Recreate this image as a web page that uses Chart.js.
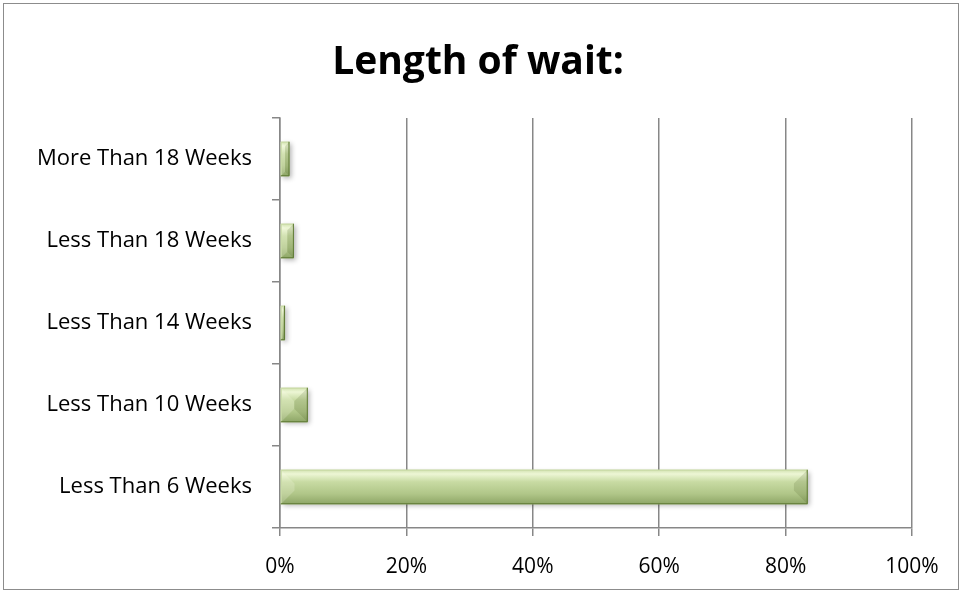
<!DOCTYPE html>
<html>
<head>
<meta charset="utf-8">
<script src="https://cdn.jsdelivr.net/npm/chart.js@4/dist/chart.umd.min.js"></script>
<style>
  html, body { margin: 0; padding: 0; background: #fff; }
  #wrap { position: absolute; left: 3px; top: 3px; width: 956px; height: 587px; border: 1px solid #8c8c8c; box-sizing: border-box; }
  #chart { position: absolute; left: 0; top: 0; }
</style>
</head>
<body>
<div id="wrap"></div>
<canvas id="chart" width="962" height="593"></canvas>
<script>
// chart data, top to bottom as in the picture
const categories = ['More Than 18 Weeks', 'Less Than 18 Weeks', 'Less Than 14 Weeks', 'Less Than 10 Weeks', 'Less Than 6 Weeks'];
const waitShare = [1.5, 2.2, 0.8, 4.4, 83.5];
const xTicks = [0, 20, 40, 60, 80, 100];
const chartTitle = 'Length of wait:';

const baseFont = "'Open Sans', 'Liberation Sans', Arial, sans-serif";

// title centred on the whole canvas, like the original
const titlePlugin = {
    id: 'pageTitle',
    afterDraw(chart) {
        const ctx = chart.ctx;
        ctx.save();
        ctx.font = 'bold 39px ' + baseFont;
        ctx.fillStyle = '#000';
        ctx.textAlign = 'center';
        ctx.textBaseline = 'alphabetic';
        ctx.fillText(chartTitle, 478, 74);
        ctx.restore();
    }
};

// bevel look for the bars, drawn over the elements the library placed
const bevelPlugin = {
    id: 'bevel',
    beforeDatasetsDraw(chart) {
        const ctx = chart.ctx;
        ctx.save();
        ctx.shadowColor = 'rgba(0,0,0,0.3)';
        ctx.shadowBlur = 5;
        ctx.shadowOffsetX = 2;
        ctx.shadowOffsetY = 2;
    },
    afterDatasetsDraw(chart) {
        const ctx = chart.ctx;
        ctx.restore();
        chart.getDatasetMeta(0).data.forEach(bar => {
            const left = Math.min(bar.base, bar.x), right = Math.max(bar.base, bar.x);
            const top = bar.y - bar.height / 2, bottom = bar.y + bar.height / 2;
            const h = bottom - top, w = right - left;
            const e = Math.min(h * 0.4, w / 2);
            ctx.save();
            const g = ctx.createLinearGradient(0, top, 0, bottom);
            g.addColorStop(0, '#d2e2b0');
            g.addColorStop(0.12, '#edf6d5');
            g.addColorStop(0.35, '#c8dba3');
            g.addColorStop(0.7, '#b0c688');
            g.addColorStop(1, '#8da566');
            ctx.fillStyle = g;
            ctx.fillRect(left, top, w, h);
            // left end lighter
            ctx.fillStyle = 'rgba(255,255,240,0.2)';
            ctx.beginPath();
            ctx.moveTo(left, top); ctx.lineTo(left + e, top + e);
            ctx.lineTo(left + e, bottom - e); ctx.lineTo(left, bottom);
            ctx.closePath(); ctx.fill();
            // right end shade
            ctx.fillStyle = 'rgba(70,90,30,0.16)';
            ctx.beginPath();
            ctx.moveTo(right, top); ctx.lineTo(right, bottom);
            ctx.lineTo(right - e, bottom - e); ctx.lineTo(right - e, top + e);
            ctx.closePath(); ctx.fill();
            // edges
            ctx.strokeStyle = '#c9dba6';
            ctx.lineWidth = 1;
            ctx.beginPath();
            ctx.moveTo(left + 0.5, bottom); ctx.lineTo(left + 0.5, top + 0.5); ctx.lineTo(right, top + 0.5);
            ctx.stroke();
            ctx.strokeStyle = '#5f7a35';
            ctx.beginPath();
            ctx.moveTo(left, bottom - 0.5); ctx.lineTo(right - 0.5, bottom - 0.5); ctx.lineTo(right - 0.5, top);
            ctx.stroke();
            ctx.restore();
        });
    }
};

new Chart(document.getElementById('chart'), {
    type: 'bar',
    data: {
        labels: categories,
        datasets: [{
            data: waitShare,
            backgroundColor: '#b5c98f',
            borderWidth: 0,
            categoryPercentage: 1,
            barPercentage: 0.42
        }]
    },
    plugins: [bevelPlugin, titlePlugin],
    options: {
        indexAxis: 'y',
        responsive: false,
        animation: false,
        layout: { padding: { right: 50, left: 0, bottom: 0, top: 118 } },
        plugins: {
            legend: { display: false },
            tooltip: { enabled: false },
            title: { display: false }
        },
        scales: {
            x: {
                min: 0,
                max: 100,
                afterBuildTicks(scale) { scale.ticks = xTicks.map(v => ({ value: v })); },
                afterFit(scale) { scale.height = 65; },
                grid: { color: '#878787', lineWidth: 1.5, tickLength: 8, drawTicks: true },
                border: { color: '#878787', width: 1.5 },
                ticks: {
                    color: '#000',
                    padding: 18,
                    font: { family: baseFont, size: 21 },
                    callback: v => v + '%'
                }
            },
            y: {
                afterFit(scale) { scale.width = 280; },
                grid: { drawOnChartArea: false, color: '#878787', lineWidth: 1.5, tickLength: 8, offset: true },
                border: { color: '#878787', width: 1.5 },
                ticks: {
                    color: '#000',
                    padding: 20,
                    font: { family: baseFont, size: 22 }
                }
            }
        }
    }
});
</script>
</body>
</html>
